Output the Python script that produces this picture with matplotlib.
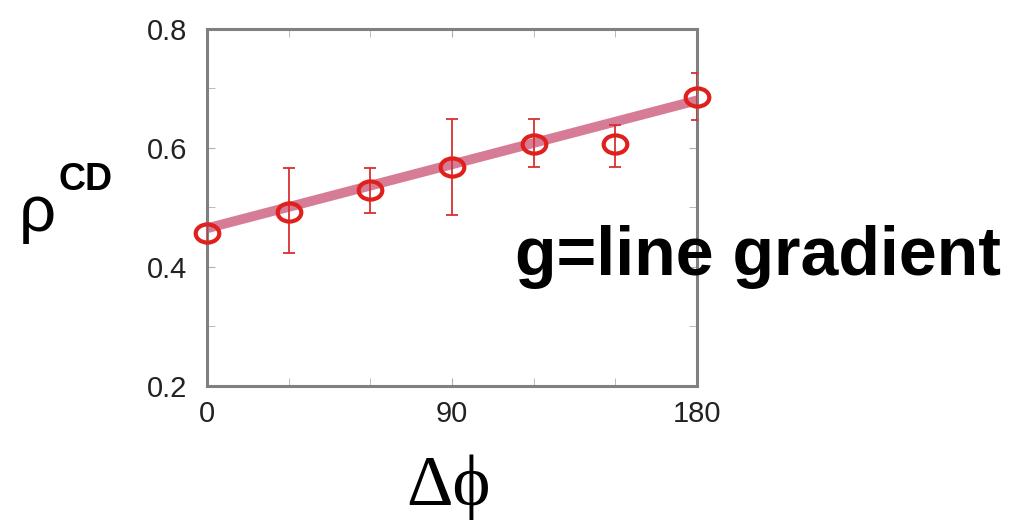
import matplotlib
matplotlib.use('Agg')
import matplotlib.pyplot as plt
from matplotlib.ticker import MultipleLocator
from matplotlib.path import Path

plt.rcParams['font.family'] = ['Liberation Sans', 'DejaVu Sans']

dphi = [0, 30, 60, 90, 120, 150, 180]
rho = [0.457, 0.492, 0.530, 0.568, 0.607, 0.607, 0.686]
err_lo = [0.440, 0.423, 0.490, 0.487, 0.568, 0.568, 0.647]
err_hi = [0.470, 0.566, 0.566, 0.649, 0.649, 0.638, 0.726]
fit_x = [0, 180]
fit_y = [0.465, 0.680]

# slightly flattened circle marker (the original image is stretched)
circ = Path.unit_circle()
ellipse = Path(circ.vertices * [1.3, 1.0], circ.codes)

fig = plt.figure(figsize=(10.27, 5.23), dpi=100)
ax = fig.add_axes([0.2016, 0.262, 0.4771, 0.6826])

yerr = [[r - lo for r, lo in zip(rho, err_lo)],
        [hi - r for r, hi in zip(rho, err_hi)]]

ax.plot(fit_x, fit_y, color='#d77c96', lw=7, solid_capstyle='butt', zorder=2)
ax.errorbar(dphi, rho, yerr=yerr, fmt='none', ecolor='#d9302f', elinewidth=1.3,
            capsize=4, capthick=1.3, zorder=3)
ax.plot(dphi, rho, marker=ellipse, ls='none', ms=17, mfc='none', mec='#e0201c',
        mew=3, zorder=4, clip_on=False)

ax.set_xlim(0, 180)
ax.set_ylim(0.2, 0.8)
ax.set_xticks([0, 90, 180])
ax.set_xticklabels(['0', '90', '180'])
ax.xaxis.set_minor_locator(MultipleLocator(30))
ax.set_yticks([0.2, 0.4, 0.6, 0.8])
ax.set_yticklabels(['0.2', '0.4', '0.6', '0.8'])
ax.yaxis.set_minor_locator(MultipleLocator(0.1))
ax.tick_params(which='both', direction='in', top=True, right=True,
               color='#b0b0b0', labelsize=21, labelcolor='#222222')
ax.tick_params(axis='y', pad=14)
ax.tick_params(axis='x', pad=10)
ax.tick_params(which='major', length=6)
ax.tick_params(which='minor', length=6)
for s in ax.spines.values():
    s.set_color('#808080')
    s.set_linewidth(2.2)

fig.text(0.018, 0.59, '\u03c1', fontsize=47, ha='left', va='center')
fig.text(0.057, 0.655, 'CD', fontsize=27, fontweight='bold', ha='left', va='center')
fig.text(0.501, 0.474, 'g=line gradient', fontsize=49, fontweight='bold',
         ha='left', va='baseline')
fig.text(0.396, 0.035, '\u0394\u03d5', fontsize=52, ha='left', va='baseline',
         family=['Liberation Serif', 'DejaVu Serif'])

fig.savefig('out.png', dpi=100)
